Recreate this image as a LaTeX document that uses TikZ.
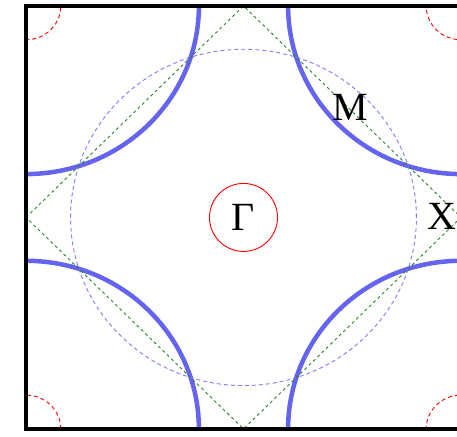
\documentclass[tikz,border=0pt]{standalone}
\usepackage{fontspec}
\setmainfont{Liberation Serif}
\usetikzlibrary{calc}

\definecolor{fsblue}{RGB}{100,100,240}
\definecolor{foldblue}{RGB}{125,125,255}
\definecolor{zonegreen}{RGB}{40,130,40}

\begin{document}
\begin{tikzpicture}[x=217.5pt, y=211.5pt,
  fermi/.style={line width=4.5pt, fsblue},
  folded/.style={line width=0.9pt, foldblue, dash pattern=on 4pt off 3pt},
  zone/.style={line width=0.9pt, zonegreen, dash pattern=on 3pt off 3pt},
  pocket/.style={line width=0.9pt, red, dash pattern=on 4pt off 3pt},
  bz/.style={line width=4pt, black},
  sym/.style={font=\fontsize{40}{40}\selectfont, inner sep=0pt}
]
\useasboundingbox (-1.1195,-1.038) rectangle (0.9816,1.028);
\clip (-1.1195,-1.038) rectangle (0.9816,1.028);

% zone centre and corners
\coordinate (G) at (0,0);
\coordinate (TL) at (-1,1);
\coordinate (TR) at (1,1);
\coordinate (BL) at (-1,-1);
\coordinate (BR) at (1,-1);

% edge midpoints
\coordinate (L) at (-1,0);
\coordinate (T) at (0,1);
\coordinate (R) at (1,0);
\coordinate (B) at (0,-1);

\begin{scope}
  \clip (TL) rectangle (BR);
  \foreach \c in {TL,TR,BL,BR} {
    \draw[fermi] (\c) circle[radius=0.795];
    \draw[pocket] (\c) circle[radius=0.16];
  }
\end{scope}

\draw[folded] (G) circle[radius=0.795];
\draw[zone] (L) -- (T) -- (R) -- (B) -- cycle;
\draw[bz] (BL) rectangle (TR);

\node[sym, circle, draw=red, line width=0.9pt, minimum size=68pt] (gamma) at (G) {Γ};
\node[sym] (M) at (0.49,0.518) {M};
\node[sym] (X) at (0.913,0.007) {X};

\end{tikzpicture}
\end{document}
